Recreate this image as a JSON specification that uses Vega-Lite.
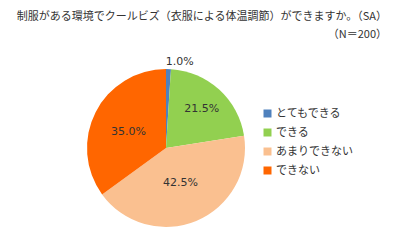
{
  "$schema": "https://vega.github.io/schema/vega-lite/v6.json",
  "width": 332,
  "height": 176,
  "autosize": {"type": "none"},
  "padding": {"left": 0, "top": 60, "right": 68, "bottom": 4},
  "background": "white",
  "config": {"view": {"stroke": null}},
  "title": {
    "text": ["制服がある環境でクールビズ（衣服による体温調節）ができますか。（SA）", "（N＝200）"],
    "anchor": "end",
    "align": "right",
    "frame": "group",
    "dx": 55,
    "offset": 16,
    "font": "Noto Sans CJK JP",
    "fontSize": 11,
    "fontWeight": "normal",
    "lineHeight": 18,
    "color": "#333333"
  },
  "data": {
    "values": [
      {"answer": "とてもできる", "pct": 1.0, "rank": 1, "label": "1.0%"},
      {"answer": "できる", "pct": 21.5, "rank": 2, "label": "21.5%"},
      {"answer": "あまりできない", "pct": 42.5, "rank": 3, "label": "42.5%"},
      {"answer": "できない", "pct": 35.0, "rank": 4, "label": "35.0%"}
    ]
  },
  "encoding": {
    "theta": {"field": "pct", "type": "quantitative", "stack": true},
    "order": {"field": "rank", "type": "quantitative"}
  },
  "layer": [
    {
      "mark": {"type": "arc", "outerRadius": 79},
      "encoding": {
        "color": {
          "field": "answer",
          "type": "nominal",
          "scale": {
            "domain": ["とてもできる", "できる", "あまりできない", "できない"],
            "range": ["#4F81BD", "#92D050", "#FAC090", "#FF6600"]
          },
          "legend": {
            "title": null,
            "orient": "none",
            "legendX": 262,
            "legendY": 48,
            "symbolType": "square",
            "symbolSize": 64,
            "symbolStrokeWidth": 0,
            "labelFont": "Noto Sans CJK JP",
            "labelFontSize": 11,
            "labelColor": "#333333",
            "rowPadding": 7,
            "labelOffset": 3
          }
        }
      }
    },
    {
      "mark": {"type": "text", "radius": 53, "font": "DejaVu Sans", "fontSize": 11, "color": "#333333"},
      "encoding": {"text": {"condition": {"test": "datum.rank == 2", "field": "label"}, "value": ""}}
    },
    {
      "mark": {"type": "text", "radius": 38, "font": "DejaVu Sans", "fontSize": 11, "color": "#333333"},
      "encoding": {"text": {"condition": {"test": "datum.rank == 3", "field": "label"}, "value": ""}}
    },
    {
      "mark": {"type": "text", "radius": 42, "font": "DejaVu Sans", "fontSize": 11, "color": "#333333", "dy": 3},
      "encoding": {"text": {"condition": {"test": "datum.rank == 4", "field": "label"}, "value": ""}}
    },
    {
      "mark": {"type": "text", "radius": 88, "font": "DejaVu Sans", "fontSize": 11, "color": "#333333", "align": "left", "dx": -3, "dy": 2},
      "encoding": {"text": {"condition": {"test": "datum.rank == 1", "field": "label"}, "value": ""}}
    }
  ]
}
